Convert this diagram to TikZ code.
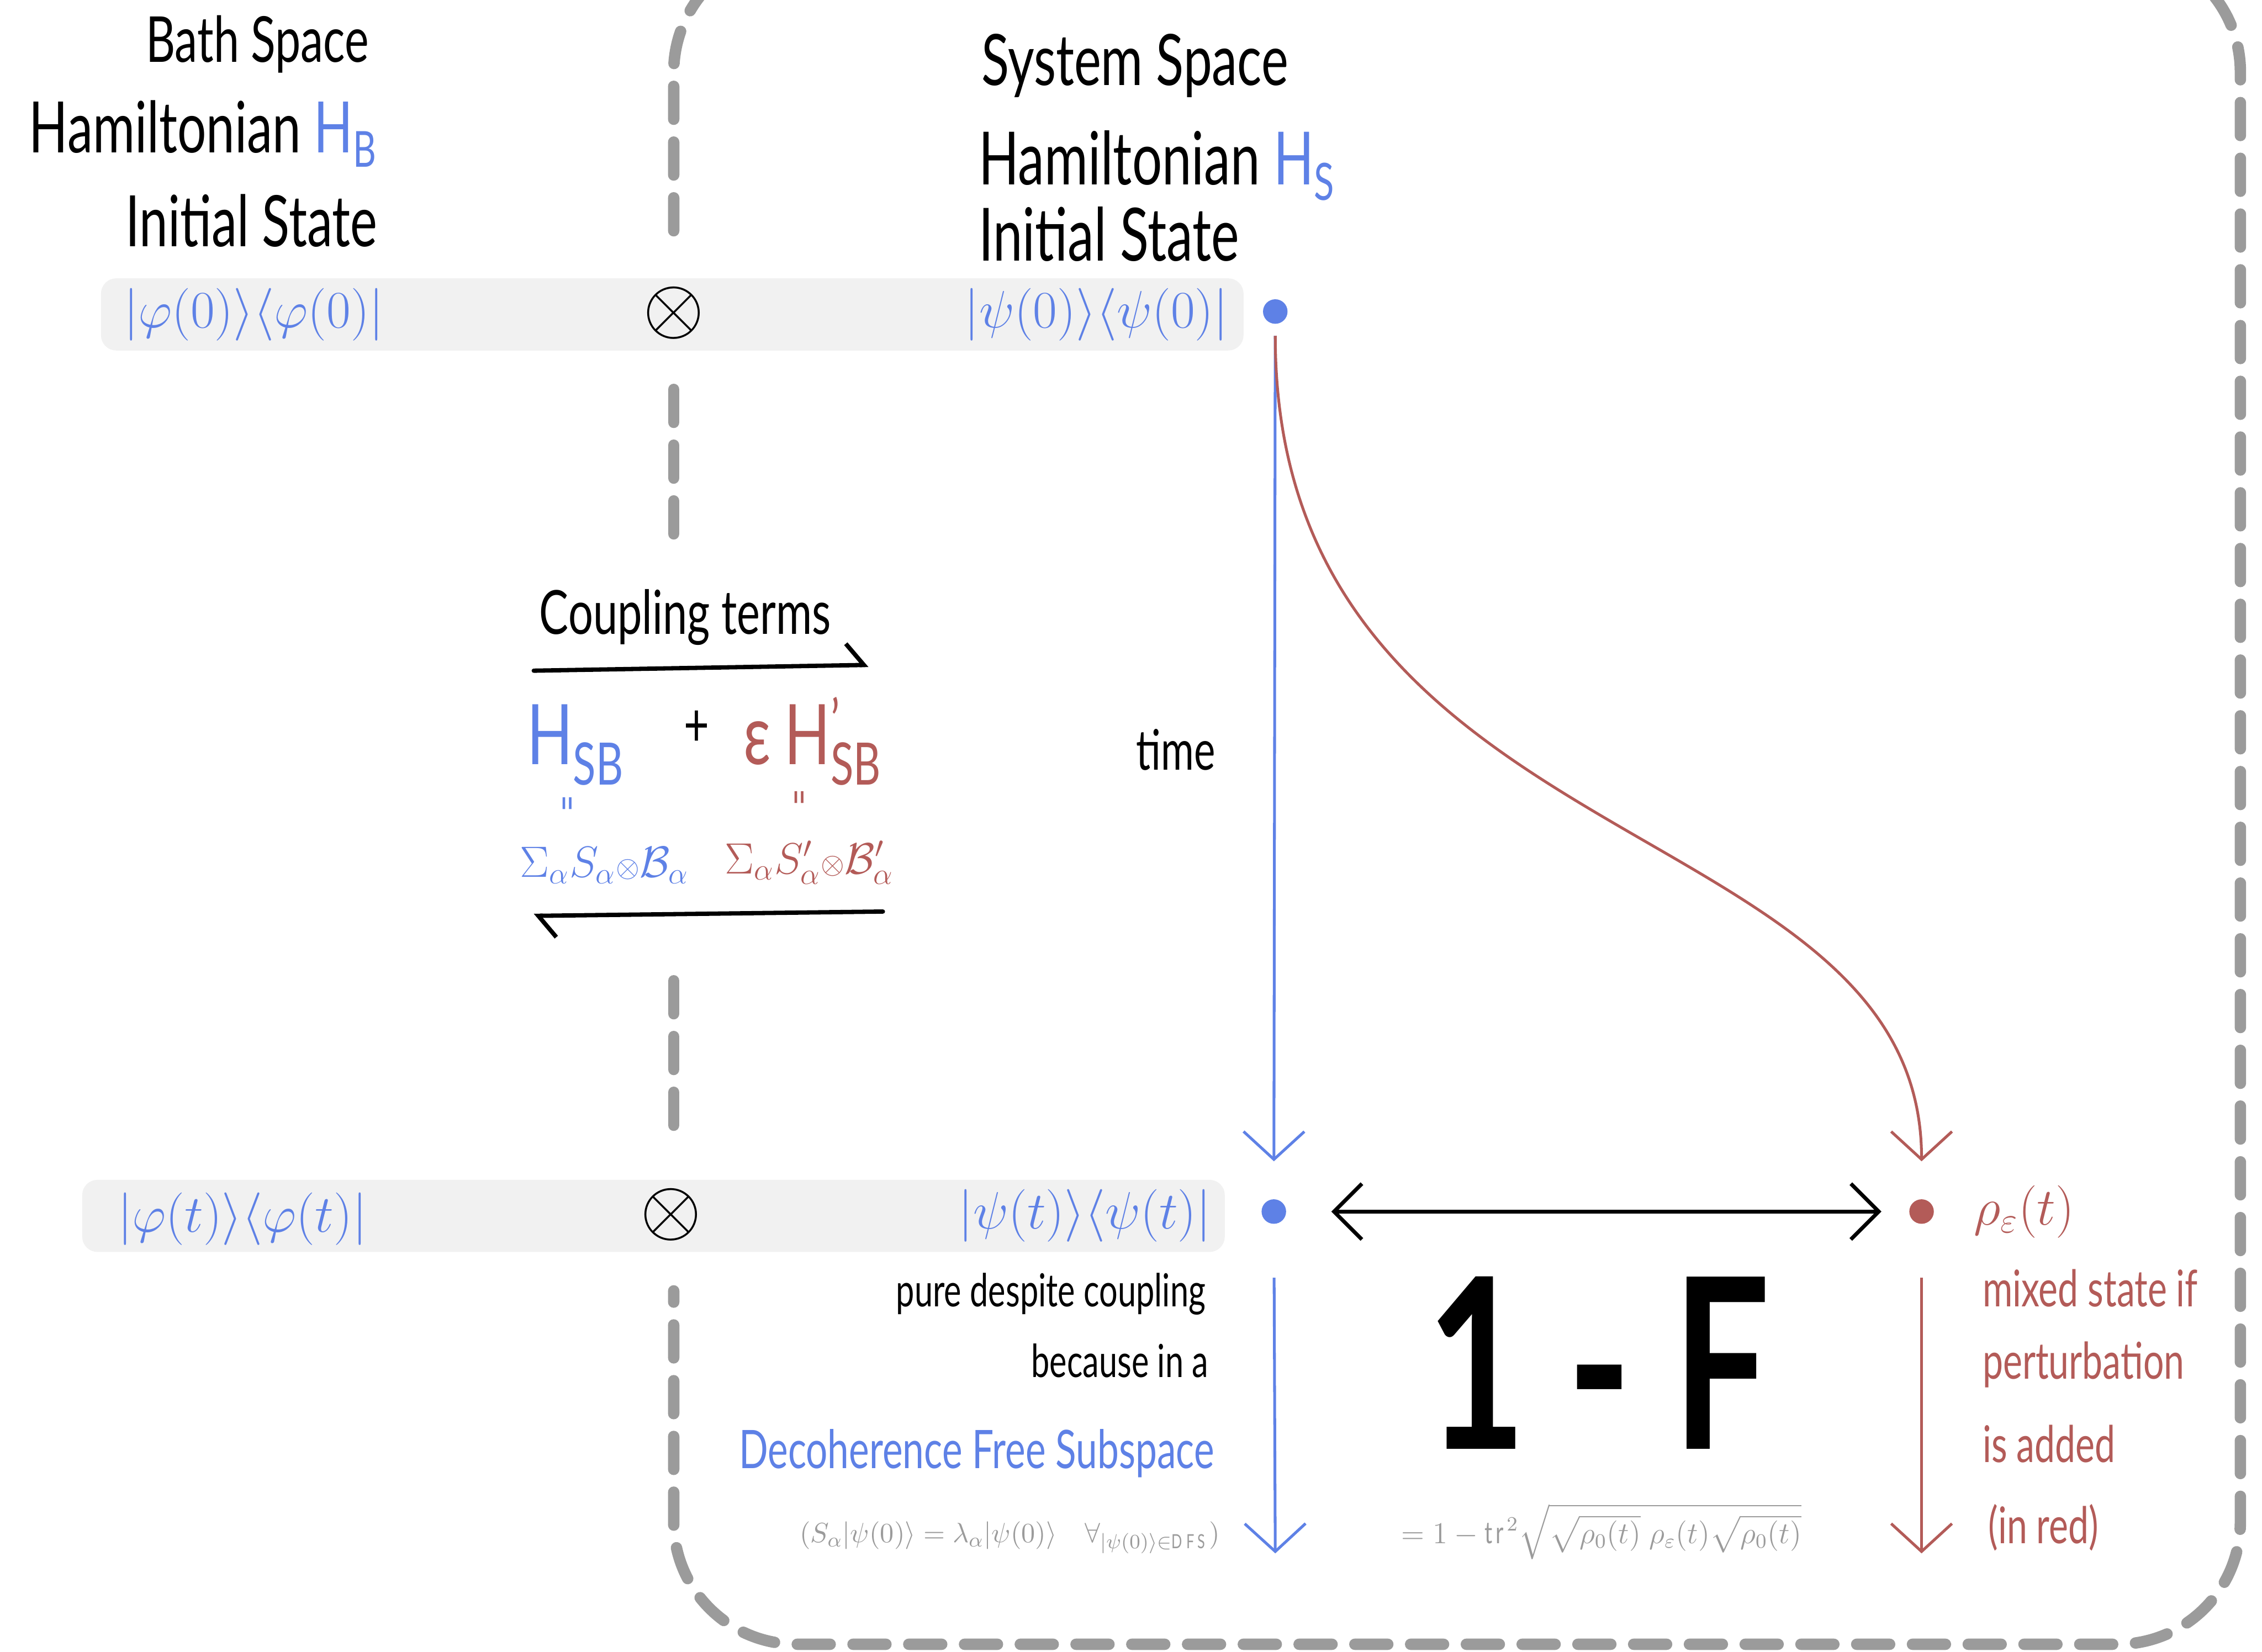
\documentclass[tikz,border=0pt]{standalone}
\usepackage{amsmath}
\usepackage{fontspec}
\setmainfont{Lato}[FakeStretch=0.72]
\usetikzlibrary{arrows.meta}
\definecolor{dfsblue}{HTML}{5E81E6}
\definecolor{dfsred}{HTML}{B35B58}
\definecolor{dfsgray}{HTML}{9B9B9B}
\definecolor{dfsband}{HTML}{F1F1F1}
\newcommand{\fsz}[1]{\fontsize{#1pt}{#1pt}\selectfont}

\begin{document}
\begin{tikzpicture}[x=0.02cm, y=-0.02cm,
    hand/.style={inner sep=0pt, text=black},
    ket/.style={inner sep=0pt, text=dfsblue, font=\fsz{20}},
    tensor/.style={inner sep=0pt, font=\fsz{24}},
    dot/.style={circle, inner sep=0pt, minimum size=0.34cm},
    band/.style={fill=dfsband, rounded corners=6pt},
    arr/.style={line width=1.1pt, -{Straight Barb[length=11pt,width=24pt]}},
    harp/.style={line width=1.7pt, line cap=round, -{Straight Barb[left,length=7pt,width=17pt]}},
    frame/.style={draw=dfsgray, line width=4.5pt, line cap=round, dash pattern=on 13pt off 9pt},
  ]
  \useasboundingbox (0,0) rectangle (1568,1145);

  % Dashed frame of the system space
  \begin{scope}
    \clip (0,0) rectangle (1568,1145);
    \draw[frame, rounded corners=1.7cm] (467,160) -- (467,-35) -- (1553,-35)
      -- (1553,1140) -- (467,1140) -- (467,895);
    \draw[frame] (467,270) -- (467,380);
    \draw[frame] (467,680) -- (467,785);
  \end{scope}

  % Headings
  \node[hand, anchor=base east, font=\fsz{25}] (bathsp) at (256,43) {Bath Space};
  \node[hand, anchor=base east, font=\fsz{28}] (bathham) at (262,106)
    {Hamiltonian \textcolor{dfsblue}{H\textsubscript{B}}};
  \node[hand, anchor=base east, font=\fsz{28}] (bathini) at (262,171) {Initial State};
  \node[hand, anchor=base west, font=\fsz{28}] (syssp) at (680,59) {System Space};
  \node[hand, anchor=base west, font=\fsz{29}] (sysham) at (678,128)
    {Hamiltonian \textcolor{dfsblue}{H\textsubscript{S}}};
  \node[hand, anchor=base west, font=\fsz{29}] (sysini) at (678,181) {Initial State};

  % Initial product state
  \fill[band] (70,193) rectangle (862,243);
  \node[ket] (bath0) at (176,218) {$|\varphi(0)\rangle\langle\varphi(0)|$};
  \node[tensor] (otop) at (467,217) {\scalebox{1.25}{$\otimes$}};
  \node[ket] (sys0) at (760,218) {$|\psi(0)\rangle\langle\psi(0)|$};
  \node[dot, fill=dfsblue] (s0) at (884,216) {};

  % State at time t
  \fill[band] (57,818) rectangle (849,868);
  \node[ket] (batht) at (168,845) {$|\varphi(t)\rangle\langle\varphi(t)|$};
  \node[tensor] (obot) at (465,842) {\scalebox{1.25}{$\otimes$}};
  \node[ket] (syst) at (752,843) {$|\psi(t)\rangle\langle\psi(t)|$};
  \node[dot, fill=dfsblue] (st) at (883,840) {};
  \node[dot, fill=dfsred] (rt) at (1332,840) {};

  % Coupling terms
  \node[hand, font=\fsz{24}] (coup) at (475,428) {Coupling terms};
  \coordinate (cpA) at (370,465);
  \coordinate (cpB) at (602,461);
  \draw[harp] (cpA) -- (cpB);
  \node[hand, anchor=base west, font=\fsz{33}, text=dfsblue] (hsb) at (365,530)
    {H\textsubscript{SB}};
  \node[hand, font=\fsz{24}] (plus) at (483,505) {+};
  \node[hand, anchor=base west, font=\fsz{33}, text=dfsred] (hpert) at (515,530)
    {ε\,H\rlap{\textsuperscript{’}}\textsubscript{SB}};
  \node[hand, rotate=90, font=\fsz{15}, text=dfsblue] (eqb) at (396,557) {=};
  \node[hand, rotate=90, font=\fsz{15}, text=dfsred] (eqr) at (557,553) {=};
  \node[hand, anchor=west, font=\fsz{17}, text=dfsblue] (sumb) at (360,600)
    {$\Sigma_\alpha S_\alpha{\scriptstyle\otimes}\mathcal{B}_\alpha$};
  \node[hand, anchor=west, font=\fsz{17}, text=dfsred] (sumr) at (502,598)
    {$\Sigma_\alpha S'_\alpha{\scriptstyle\otimes}\mathcal{B}'_\alpha$};
  \coordinate (cpC) at (612,632);
  \coordinate (cpD) at (370,635);
  \draw[harp] (cpC) -- (cpD);

  \node[hand, font=\fsz{22}] (time) at (815,520) {time};

  % Time evolution
  \draw[arr, draw=dfsblue, shorten <=0.16cm, shorten >=0.52cm] (s0) -- (st);
  \draw[arr, draw=dfsred, shorten <=0.16cm, shorten >=0.52cm]
    (s0) .. controls (884,600) and (1332,560) .. (rt);
  \draw[{Straight Barb[length=11pt,width=22pt]}-{Straight Barb[length=11pt,width=22pt]},
    line width=1.5pt, shorten <=0.62cm, shorten >=0.38cm] (st) -- (rt);

  % Unperturbed side
  \node[hand, anchor=base east, font=\fsz{18}] (pure) at (836,906) {pure despite coupling};
  \node[hand, anchor=base east, font=\fsz{18}] (because) at (838,955) {because in a};
  \node[hand, anchor=base east, font=\fsz{21}, text=dfsblue] (dfs) at (842,1018)
    {Decoherence Free Subspace};
  \node[hand, anchor=east, font=\fsz{11}, text=dfsgray] (eig) at (846,1066)
    {$(S_\alpha|\psi(0)\rangle = \lambda_\alpha|\psi(0)\rangle\quad
      \forall_{|\psi(0)\rangle\in\mathrm{DFS}})$};
  \coordinate (sEnd) at (884,1077);
  \draw[arr, draw=dfsblue, shorten <=0.74cm] (st) -- (sEnd);

  % Infidelity
  \node[hand, font=\fsz{94}\bfseries] (infid) at (1108,945) {1 - F};
  \node[hand, font=\fsz{12}, text=dfsgray] (fid) at (1110,1062)
    {$= 1 - \mathrm{tr}^2\sqrt{\sqrt{\rho_0(t)}\;\rho_\varepsilon(t)\sqrt{\rho_0(t)}}$};

  % Perturbed side
  \node[hand, anchor=west, font=\fsz{20}, text=dfsred] (rho) at (1368,840) {$\rho_\varepsilon(t)$};
  \node[hand, anchor=base west, font=\fsz{20}, text=dfsred] (mixed) at (1374,906) {mixed state if};
  \node[hand, anchor=base west, font=\fsz{20}, text=dfsred] (pert) at (1374,956) {perturbation};
  \node[hand, anchor=base west, font=\fsz{20}, text=dfsred] (added) at (1374,1014) {is added};
  \node[hand, anchor=base west, font=\fsz{20}, text=dfsred] (inred) at (1378,1070) {(in red)};
  \coordinate (rEnd) at (1332,1077);
  \draw[arr, draw=dfsred, shorten <=0.74cm] (rt) -- (rEnd);
\end{tikzpicture}
\end{document}
